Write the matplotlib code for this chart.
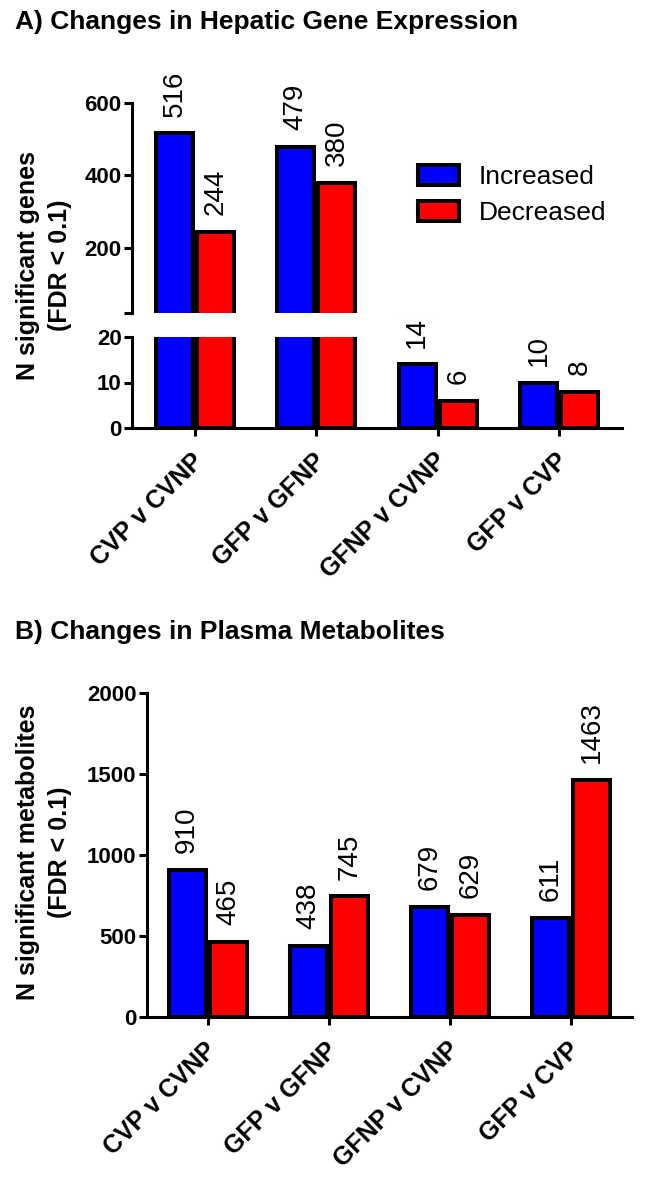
#!/usr/bin/env python3
# two bar panels: hepatic genes (broken y axis) and plasma metabolites
import numpy as np
import matplotlib
matplotlib.use('Agg')
import matplotlib.pyplot as plt
from matplotlib.patches import Patch
from matplotlib.transforms import ScaledTranslation

plt.rcParams['font.family'] = ['Liberation Sans', 'DejaVu Sans']

comparisons = ['CVP v CVNP', 'GFP v GFNP', 'GFNP v CVNP', 'GFP v CVP']
genes_up = [516, 479, 14, 10]
genes_down = [244, 380, 6, 8]
metab_up = [910, 438, 679, 611]
metab_down = [465, 745, 629, 1463]

BLUE = '#0000ff'
RED = '#ff0000'
LW = 2.2      # axis lines
EW = 2.9      # bar edges
FS = 16       # tick labels
FS_LAB = 18   # axis labels, category labels
FS_VAL = 20   # values over bars
FS_TITLE = 19
w = 0.305
off = w / 2 + 0.0165

fig = plt.figure(figsize=(6.5, 11.77), dpi=100)
H = 1177.
W = 650.

def box(x0, x1, y0, y1):
    # pixel box -> figure fraction
    return [x0 / W, 1 - y1 / H, (x1 - x0) / W, (y1 - y0) / H]

ax_hi = fig.add_axes(box(132, 622, 103, 313))
ax_lo = fig.add_axes(box(132, 622, 337, 428))
ax_b = fig.add_axes(box(147, 632, 693, 1017))

x = np.arange(len(comparisons))


def draw_bars(ax, up, down):
    b1 = ax.bar(x - off, up, w, color=BLUE, edgecolor='k', linewidth=EW, zorder=3)
    b2 = ax.bar(x + off, down, w, color=RED, edgecolor='k', linewidth=EW, zorder=3)
    return b1, b2


def style(ax):
    for s in ['top', 'right']:
        ax.spines[s].set_visible(False)
    for s in ['left', 'bottom']:
        ax.spines[s].set_linewidth(LW)
    ax.tick_params(axis='both', width=LW, length=5.5, labelsize=FS, pad=2)
    for t in ax.get_yticklabels():
        t.set_fontweight('bold')


def label(ax, xs, vals):
    for xi, v in zip(xs, vals):
        ax.annotate(str(v), xy=(xi, v), xytext=(0, 12), textcoords='offset points',
                    rotation=90, ha='center', va='bottom', fontsize=FS_VAL,
                    annotation_clip=False)


def cat_labels(ax):
    ax.set_xticks(x)
    ax.set_xticklabels(comparisons, rotation=45, ha='right', va='center',
                       rotation_mode='anchor', fontweight='bold', fontsize=FS_LAB)
    ax.tick_params(axis='x', length=6, pad=15)
    # nudge labels a little to the right
    shift = ScaledTranslation(5 / 100., 0, fig.dpi_scale_trans)
    for t in ax.get_xticklabels():
        t.set_transform(t.get_transform() + shift)


# ---- panel A, upper segment
draw_bars(ax_hi, genes_up, genes_down)
ax_hi.set_xlim(-0.52, 3.52)
ax_hi.set_ylim(20, 600)
ax_hi.set_yticks([20, 200, 400, 600])
ax_hi.set_yticklabels(['', '200', '400', '600'])
style(ax_hi)
ax_hi.spines['bottom'].set_visible(False)
ax_hi.set_xticks([])
up_i = [0, 1]
label(ax_hi, x[up_i] - off, [genes_up[i] for i in up_i])
label(ax_hi, x[up_i] + off, [genes_down[i] for i in up_i])

# ---- panel A, lower segment
draw_bars(ax_lo, genes_up, genes_down)
ax_lo.set_xlim(-0.52, 3.52)
ax_lo.set_ylim(0, 20)
ax_lo.set_yticks([0, 10, 20])
style(ax_lo)
cat_labels(ax_lo)
lo_i = [2, 3]
label(ax_lo, x[lo_i] - off, [genes_up[i] for i in lo_i])
label(ax_lo, x[lo_i] + off, [genes_down[i] for i in lo_i])

handles = [Patch(facecolor=BLUE, edgecolor='k', linewidth=EW, label='Increased'),
           Patch(facecolor=RED, edgecolor='k', linewidth=EW, label='Decreased')]
ax_hi.legend(handles=handles, loc='upper left', bbox_to_anchor=(0.584, 0.705),
             frameon=False, fontsize=19, handlelength=1.55, handleheight=0.8,
             handletextpad=0.75, labelspacing=0.45, borderaxespad=0, borderpad=0)

fig.text(44 / W, 1 - 265 / H, 'N significant genes\n(FDR < 0.1)', rotation=90,
         ha='center', va='center', fontsize=FS_LAB, fontweight='bold',
         linespacing=1.45)
fig.text(15 / W, 1 - 22 / H, 'A) Changes in Hepatic Gene Expression',
         ha='left', va='center', fontsize=FS_TITLE, fontweight='bold')

# ---- panel B
draw_bars(ax_b, metab_up, metab_down)
ax_b.set_xlim(-0.5, 3.5)
ax_b.set_ylim(0, 2000)
ax_b.set_yticks([0, 500, 1000, 1500, 2000])
style(ax_b)
cat_labels(ax_b)
label(ax_b, x - off, metab_up)
label(ax_b, x + off, metab_down)

fig.text(44 / W, 1 - 852 / H, 'N significant metabolites\n(FDR < 0.1)', rotation=90,
         ha='center', va='center', fontsize=FS_LAB, fontweight='bold',
         linespacing=1.45)
fig.text(15 / W, 1 - 632 / H, 'B) Changes in Plasma Metabolites',
         ha='left', va='center', fontsize=FS_TITLE, fontweight='bold')

fig.savefig('out.png', dpi=100)
